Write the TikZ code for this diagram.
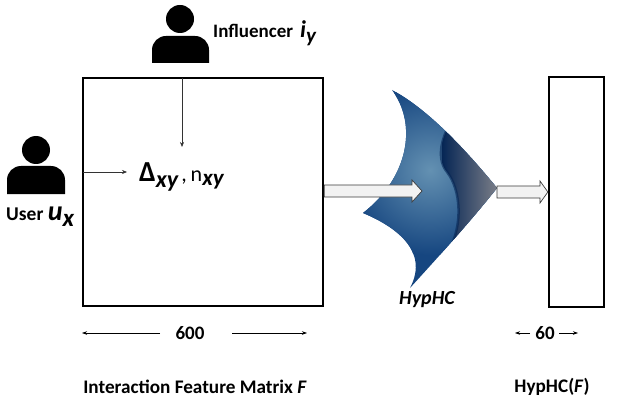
\documentclass[tikz,border=0pt]{standalone}
\usepackage{fontspec}
\setmainfont{Carlito}
\usetikzlibrary{arrows.meta,calc}
\definecolor{navy}{RGB}{6,38,85}
\definecolor{bluelight}{RGB}{100,145,178}
\definecolor{bluedark}{RGB}{22,70,128}
\definecolor{tipgray}{RGB}{128,130,138}
\definecolor{arrowfill}{RGB}{242,242,242}
\definecolor{arrowline}{RGB}{60,60,60}
\begin{document}
\begin{tikzpicture}[x=1pt,y=-1pt,
  matrixbox/.style={draw=black, line width=2.3pt, inner sep=0pt},
  thinarrow/.style={draw=black!80, line width=0.6pt, -{Stealth[length=5pt,width=4pt]}},
  dimarrow/.style={draw=black, line width=0.6pt, -{Stealth[length=5pt,width=3.5pt]}},
  blockarrow/.style={fill=arrowfill, draw=arrowline, line width=0.7pt},
  person/.style={fill=black},
  lbl/.style={font=\bfseries, inner sep=0pt},
]
\useasboundingbox (0,0) rectangle (617,403);

% boxes
\node[matrixbox, minimum width=240pt, minimum height=228pt] (F) at (203,192) {};
\node[matrixbox, minimum width=55pt, minimum height=230pt] (H) at (576.5,192) {};

% influencer icon
\fill[person] (180,19) circle (14);
\fill[person] (152,63) [rounded corners=14pt]-- (152,36) -- (209,36) [sharp corners]-- (209,63) -- cycle;
\coordinate (infl) at (182,78);
\node[lbl, anchor=base west, font=\fontsize{19}{21}\selectfont\bfseries] (inftxt) at (213,38)
  {Influencer\hspace{7pt}{\fontsize{24}{25}\selectfont\itshape i}\raisebox{-5pt}{\fontsize{21}{22}\selectfont\itshape y}};

% user icon
\fill[person] (36,150) circle (14);
\fill[person] (7,194) [rounded corners=14pt]-- (7,166) -- (65,166) [sharp corners]-- (65,194) -- cycle;
\coordinate (userin) at (83,172);
\node[lbl, anchor=base west, font=\fontsize{19.5}{22}\selectfont\bfseries] (usertxt) at (6,220)
  {User {\fontsize{28}{29}\selectfont\itshape u}\raisebox{-6pt}{\fontsize{25}{26}\selectfont\itshape x}};

% delta node
\node[inner sep=0pt, anchor=base west] (delta) at (139,182)
  {{\fontsize{29}{30}\selectfont\bfseries Δ}\raisebox{-6pt}{\fontsize{24}{26}\selectfont\bfseries\itshape xy}\hspace{3pt}{\fontsize{22}{24}\selectfont ,\hspace{4pt}n}\raisebox{-4pt}{\fontsize{23}{24}\selectfont\bfseries\itshape xy}};
\coordinate (deltaL) at (127,172);
\coordinate (deltaT) at (182,147);

\draw[thinarrow] (infl) -- (deltaT);
\draw[thinarrow] (userin) -- (deltaL);

% HypHC shape
\begin{scope}
\path[clip] (392,90) .. controls (418,125) and (408,178) .. (363,213)
   .. controls (394,226) and (430,250) .. (410,288)
   .. controls (440,255) and (470,222) .. (497,188)
   .. controls (470,155) and (430,110) .. (392,90) -- cycle;
\fill[bluedark] (355,85) rectangle (500,292);
\shade[inner color=bluelight, outer color=bluedark] (430,170) circle (85);
\begin{scope}
\path[clip]
  (451,122) .. controls (440,140) and (437,160) .. (447,172)
  .. controls (461,190) and (463,225) .. (449,250)
  .. controls (440,266) and (425,280) .. (410,290) -- (520,300) -- (520,60) -- (451,60) -- cycle;
\shade[left color=navy, middle color=navy!85!tipgray, right color=tipgray] (442,85) rectangle (500,292);
\end{scope}
\draw[navy, line width=2.5pt, opacity=0.6]
  (451,122) .. controls (440,140) and (437,160) .. (447,172)
  .. controls (461,190) and (463,225) .. (449,250)
  .. controls (440,266) and (425,280) .. (410,290);
\end{scope}
\node[lbl, font=\fontsize{20}{22}\selectfont\bfseries\itshape] (hyplbl) at (427,300) {HypHC};

% block arrows
\coordinate (A1s) at (F.east |- 0,191);
\draw[blockarrow] ($(A1s)+(0,-6)$) -- (412,185) -- (412,180) -- (422,191) -- (412,202) -- (412,197) -- ($(A1s)+(0,6)$) -- cycle;
\coordinate (A2s) at (497,192);
\draw[blockarrow] ($(A2s)+(0,-6)$) -- (540,186) -- (540,181) -- (H.west |- 0,192) -- (540,203) -- (540,198) -- ($(A2s)+(0,6)$) -- cycle;

% dimensions
\node[lbl, font=\fontsize{19}{20}\selectfont\bfseries] (d600) at (190,333) {600};
\coordinate (d600L) at (82,333);
\coordinate (d600R) at (307,333);
\draw[dimarrow] (160,333) -- (d600L);
\draw[dimarrow] (232,333) -- (d600R);
\node[lbl, font=\fontsize{19}{20}\selectfont\bfseries] (d60) at (545,333) {60};
\coordinate (d60L) at (515,333);
\coordinate (d60R) at (578,333);
\draw[dimarrow] (530,333) -- (d60L);
\draw[dimarrow] (559,333) -- (d60R);

% captions
\node[lbl, font=\fontsize{19.2}{21}\selectfont\bfseries] (cap1) at (195,387) {Interaction Feature Matrix \textit{F}};
\node[lbl, font=\fontsize{19.2}{21}\selectfont\bfseries] (cap2) at (552,387) {HypHC(\textit{F})};
\end{tikzpicture}
\end{document}
